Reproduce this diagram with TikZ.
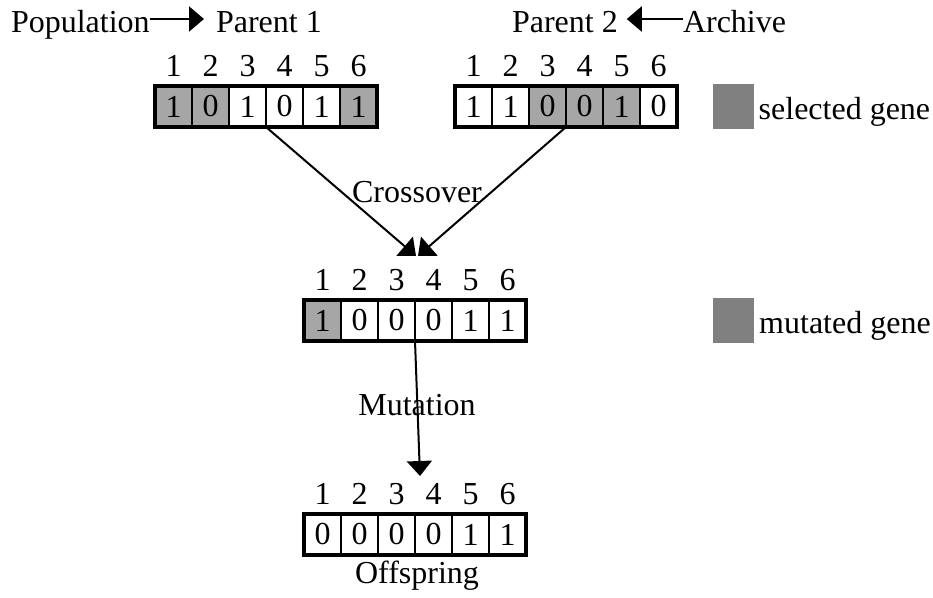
\documentclass[tikz,border=0pt]{standalone}
\usepackage{fontspec}
\setmainfont{Liberation Serif}
\usepackage{tikz}
\usetikzlibrary{arrows.meta}
\usetikzlibrary{positioning}

\definecolor{cellgray}{HTML}{A6A6A6}
\definecolor{keygray}{HTML}{808080}

\tikzset{
  cell/.style={draw, line width=2.5pt, minimum width=37pt, minimum height=41pt,
    inner sep=0pt, outer sep=0pt},
  chromo/.style={line width=4pt},
  arr/.style={line width=2pt, -{Triangle[width=25pt,length=15pt]}},
  txt/.style={inner sep=0pt, outer sep=0pt}
}

\begin{document}
\begin{tikzpicture}[x=1pt,y=-1pt,font=\fontsize{32}{38}\selectfont]
  \useasboundingbox (0,0) rectangle (933,597);

  % Parents
  \node[txt,anchor=base west] (pop) at (11,32) {Population};
  \node[txt,anchor=base west] (par1) at (216,32) {Parent 1};
  \node[txt,anchor=base west] (par2) at (512,32) {Parent 2};
  \node[txt,anchor=base west] (arch) at (683,32) {Archive};
  \draw[arr] ([yshift=13pt]pop.base east) -- ([xshift=-12pt,yshift=13pt]par1.base west);
  \draw[arr] ([yshift=13pt]arch.base west) -- ([xshift=9pt,yshift=13pt]par2.base east);

  \foreach \b/\f [count=\i] in {1/cellgray,0/cellgray,1/white,0/white,1/white,1/cellgray} {
    \node[cell,fill=\f] (p1-\i) at ({136.5+37*\i},106.5) {\b};
    \node[txt,anchor=base] at ([yshift=9.5pt]p1-\i.north) {\i};
  }
  \draw[chromo] (p1-1.north west) rectangle (p1-6.south east);

  \foreach \b/\f [count=\i] in {1/white,1/white,0/cellgray,0/cellgray,1/cellgray,0/white} {
    \node[cell,fill=\f] (p2-\i) at ({436.5+37*\i},106.5) {\b};
    \node[txt,anchor=base] at ([yshift=9.5pt]p2-\i.north) {\i};
  }
  \draw[chromo] (p2-1.north west) rectangle (p2-6.south east);

  % Crossover result
  \foreach \b/\f [count=\i] in {1/cellgray,0/white,0/white,0/white,1/white,1/white} {
    \node[cell,fill=\f] (c-\i) at ({285.5+37*\i},320.5) {\b};
    \node[txt,anchor=base] at ([yshift=9.5pt]c-\i.north) {\i};
  }
  \draw[chromo] (c-1.north west) rectangle (c-6.south east);

  % Offspring
  \foreach \b [count=\i] in {0,0,0,0,1,1} {
    \node[cell,fill=white] (o-\i) at ({285.5+37*\i},534.5) {\b};
    \node[txt,anchor=base] at ([yshift=9.5pt]o-\i.north) {\i};
  }
  \draw[chromo] (o-1.north west) rectangle (o-6.south east);
  \node[txt,anchor=base] (offs) at (417,583) {Offspring};

  % Operators
  \coordinate (xa) at (416,256);
  \coordinate (xb) at (418,256);
  \coordinate (mt) at (420,476);
  \node[txt] (cross) at (417,192) {Crossover};
  \node[txt] (mut) at (417,405) {Mutation};
  \draw[arr] (p1-3.south east) -- (xa);
  \draw[arr] (p2-3.south east) -- (xb);
  \draw[arr] (c-3.south east) -- (mt);

  % Legend
  \node[fill=keygray, minimum width=41pt, minimum height=45pt, inner sep=0pt] (selsq) at (733,106.5) {};
  \node[txt,anchor=base west] (seltxt) at ([xshift=5pt,yshift=-13pt]selsq.east) {selected gene};
  \node[fill=keygray, minimum width=41pt, minimum height=45pt, inner sep=0pt] (mutsq) at (733.5,320.5) {};
  \node[txt,anchor=base west] (muttxt) at ([xshift=5pt,yshift=-13pt]mutsq.east) {mutated gene};
\end{tikzpicture}
\end{document}
